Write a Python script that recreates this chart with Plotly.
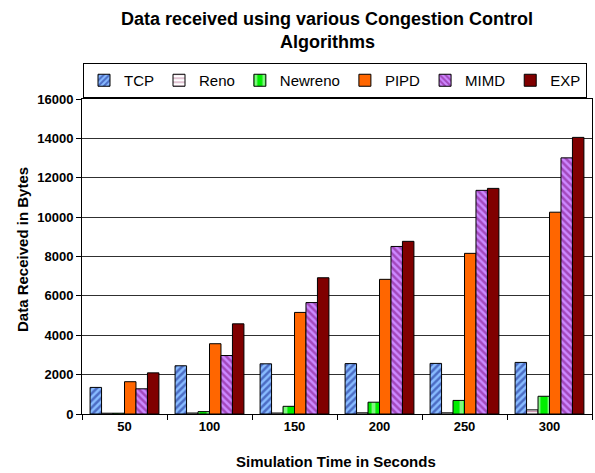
import plotly.graph_objects as go

categories = ["50", "100", "150", "200", "250", "300"]
series_names = ["TCP", "Reno", "Newreno", "PIPD", "MIMD", "EXP"]
tcp = [1350, 2450, 2550, 2560, 2570, 2620]
reno = [40, 50, 50, 60, 60, 210]
newreno = [40, 120, 390, 600, 690, 900]
pipd = [1640, 3570, 5160, 6840, 8160, 10250]
mimd = [1280, 2970, 5660, 8510, 11360, 13010]
exp_ = [2090, 4580, 6920, 8770, 11460, 14050]
y_ticks = [0, 2000, 4000, 6000, 8000, 10000, 12000, 14000, 16000]

styles = {
    "TCP": dict(color="#99CCFF", pattern=dict(shape="/", fgcolor="#10208A", bgcolor="#88BBFF", size=5, solidity=0.5)),
    "Reno": dict(color="#FFFFFF", pattern=dict(shape="-", fgcolor="#993366", bgcolor="#FFFFFF", size=5, solidity=0.3)),
    "Newreno": dict(color="#00FF00", pattern=dict(shape="|", fgcolor="#FFFFFF", bgcolor="#00EE00", size=11, solidity=0.35)),
    "PIPD": dict(color="#FF6600"),
    "MIMD": dict(color="#CC66FF", pattern=dict(shape="\\", fgcolor="#7A0A7A", bgcolor="#CC88FF", size=5, solidity=0.5)),
    "EXP": dict(color="#800000"),
}

data = [tcp, reno, newreno, pipd, mimd, exp_]

fig = go.Figure()
for name, vals in zip(series_names, data):
    st = styles[name]
    marker = dict(color=st["color"], line=dict(color="#000000", width=1))
    if "pattern" in st:
        marker["pattern"] = st["pattern"]
    fig.add_trace(go.Bar(name=name, x=categories, y=vals, marker=marker))

L, R, T, B = 82, 592, 99, 414


def px_to_paper_x(px):
    return (px - L) / (R - L)


def px_to_paper_y(py):
    return (B - py) / (B - T)


fig.update_layout(
    width=595, height=473,
    margin=dict(l=L, r=595 - R, t=T, b=473 - B, autoexpand=False),
    paper_bgcolor="white", plot_bgcolor="white",
    barmode="group", bargap=0.19, bargroupgap=0,
    font=dict(family="Liberation Sans, Arial, sans-serif", color="#000000"),
    showlegend=True,
    legend=dict(orientation="h", x=px_to_paper_x(83), xanchor="left", y=px_to_paper_y(98), yanchor="bottom",
                bordercolor="#000000", borderwidth=1, bgcolor="white",
                font=dict(size=15, family="Liberation Sans, Arial, sans-serif"),
                traceorder="normal", itemwidth=30),
    annotations=[
        dict(text="<b>Data received using various Congestion Control</b>", x=px_to_paper_x(327), y=px_to_paper_y(19),
             xref="paper", yref="paper", showarrow=False, font=dict(size=18), xanchor="center", yanchor="middle"),
        dict(text="<b>Algorithms</b>", x=px_to_paper_x(327), y=px_to_paper_y(42),
             xref="paper", yref="paper", showarrow=False, font=dict(size=18), xanchor="center", yanchor="middle"),
        dict(text="<b>Simulation Time in Seconds</b>", x=px_to_paper_x(336), y=px_to_paper_y(461),
             xref="paper", yref="paper", showarrow=False, font=dict(size=15), xanchor="center", yanchor="middle"),
        dict(text="<b>Data Received in Bytes</b>", x=px_to_paper_x(22), y=px_to_paper_y(250),
             xref="paper", yref="paper", showarrow=False, font=dict(size=15), textangle=-90,
             xanchor="center", yanchor="middle"),
    ],
)

fig.update_xaxes(
    type="category", tickson="boundaries", ticks="outside", ticklen=5, tickcolor="#000000",
    showline=True, linecolor="#000000", linewidth=1, mirror=True,
    tickfont=dict(size=13, family="Liberation Sans, Arial, sans-serif", weight="bold"),
    showgrid=False,
)
fig.update_yaxes(
    range=[0, 16000], tickvals=y_ticks, ticktext=[str(v) for v in y_ticks],
    ticks="outside", ticklen=5, tickcolor="#000000",
    showline=True, linecolor="#000000", linewidth=1, mirror=True,
    showgrid=True, gridcolor="#303030", gridwidth=1, zeroline=False,
    tickfont=dict(size=13, family="Liberation Sans, Arial, sans-serif", weight="bold"),
)

fig.write_html("out.html", config={"displayModeBar": False},
               post_script="document.body.style.margin='0';document.body.style.overflow='hidden';")
